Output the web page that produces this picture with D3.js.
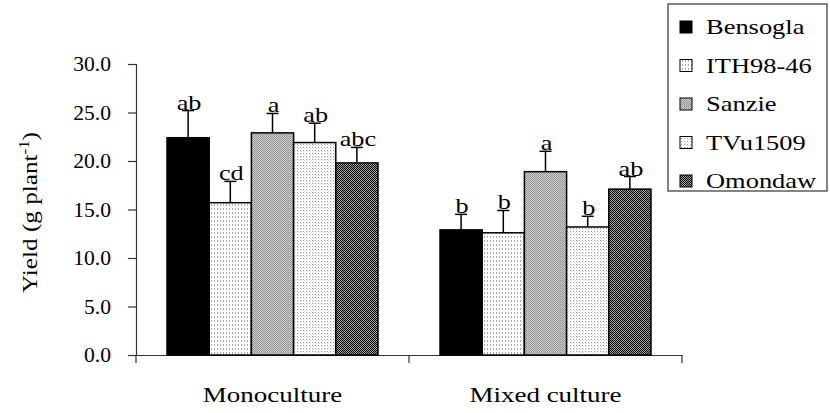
<!DOCTYPE html>
<html>
<head>
  <meta charset="utf-8">
  <script src="https://cdn.jsdelivr.net/npm/d3@7"></script>
  <style>
    body { margin: 0; background: #fff; }
    text { font-family: "Liberation Serif", "Times New Roman", serif; fill: #000; }
  </style>
</head>
<body>
<script>
  // data
  var categories = ["Monoculture", "Mixed culture"];
  var cultivars = ["Bensogla", "ITH98-46", "Sanzie", "TVu1509", "Omondaw"];
  var yieldMono = [22.4, 15.7, 22.9, 21.9, 19.8];
  var yieldMixed = [12.9, 12.6, 18.9, 13.2, 17.1];
  var errMono = [2.8, 2.2, 2.0, 2.0, 1.6];
  var errMixed = [1.6, 2.3, 2.1, 1.1, 1.3];
  var lettersMono = ["ab", "cd", "a", "ab", "abc"];
  var lettersMixed = ["b", "b", "a", "b", "ab"];
  var yTicks = [0, 5, 10, 15, 20, 25, 30];

  var W = 830, H = 413;
  var svg = d3.select("body").append("svg").attr("width", W).attr("height", H);

  // the figure's type is wide, so stretch text horizontally
  function stretch(sel, sx) {
    sel.each(function() {
      var t = d3.select(this);
      var x = +t.attr("x") || 0, y = +t.attr("y") || 0;
      t.attr("x", 0).attr("y", 0)
        .attr("transform", "translate(" + x + "," + y + ") scale(" + sx + ",1)");
    });
  }

  // fill patterns, one per cultivar
  var defs = svg.append("defs");
  function pattern(id, w, h, bg, dots) {
    var p = defs.append("pattern").attr("id", id)
      .attr("patternUnits", "userSpaceOnUse").attr("width", w).attr("height", h);
    p.append("rect").attr("width", w).attr("height", h).attr("fill", bg);
    dots.forEach(function(d) {
      p.append("rect").attr("x", d[0]).attr("y", d[1]).attr("width", d[2]).attr("height", d[3]).attr("fill", d[4]);
    });
  }
  pattern("p1", 3, 4, "#fff", [[1, 0, 1, 2, "#a8a8a8"]]);
  pattern("p2", 2, 2, "#d0d0d0", [[0, 0, 1, 1, "#8a8a8a"], [1, 1, 1, 1, "#9a9a9a"]]);
  pattern("p3", 3, 3, "#fff", [[0, 0, 1, 1, "#9a9a9a"], [1, 1, 1, 1, "#d8d8d8"]]);
  pattern("p4", 2, 2, "#a0a0a0", [[0, 0, 1, 1, "#000"], [1, 1, 1, 1, "#000"]]);
  var fills = ["#000", "url(#p1)", "url(#p2)", "url(#p3)", "url(#p4)"];

  var mLeft = 136, mRight = 682, mTop = 64, mBottom = 355;

  var y = d3.scaleLinear().domain([0, 30]).range([mBottom, mTop]);
  var x0 = d3.scaleBand().domain(categories).range([mLeft, mRight]).padding(0);
  var x1 = d3.scaleBand().domain(cultivars).range([0, x0.bandwidth()])
    .paddingInner(0).paddingOuter(0.735);

  var groups = [
    { cat: categories[0], vals: yieldMono, errs: errMono, letters: lettersMono },
    { cat: categories[1], vals: yieldMixed, errs: errMixed, letters: lettersMixed }
  ];

  // y axis
  var yAxis = svg.append("g").attr("transform", "translate(" + mLeft + ",0)")
    .call(d3.axisLeft(y).tickValues(yTicks).tickSize(8).tickPadding(17).tickFormat(d3.format(".1f")));
  yAxis.select(".domain").attr("stroke", "#333").attr("stroke-width", 1.2);
  yAxis.selectAll(".tick line").attr("stroke", "#333").attr("stroke-width", 1.2);
  yAxis.selectAll(".tick text").attr("font-size", 21).attr("font-family", "Liberation Serif").attr("fill", "#000");
  stretch(yAxis.selectAll(".tick text"), 1.03);

  // x axis
  var xAxis = svg.append("g").attr("transform", "translate(0," + mBottom + ")")
    .call(d3.axisBottom(x0).tickSize(0).tickPadding(33));
  xAxis.select(".domain").attr("stroke", "#333").attr("stroke-width", 1.2);
  xAxis.selectAll(".tick text").attr("font-size", 20).attr("font-family", "Liberation Serif").attr("fill", "#000");
  stretch(xAxis.selectAll(".tick text"), 1.35);
  // category boundary ticks
  var bounds = [mLeft].concat(categories.map(function(c) { return x0(c) + x0.bandwidth(); }));
  svg.selectAll(".btick").data(bounds).enter().append("line")
    .attr("x1", function(d) { return d; }).attr("x2", function(d) { return d; })
    .attr("y1", mBottom).attr("y2", mBottom + 8)
    .attr("stroke", "#333").attr("stroke-width", 1.2);

  // bars
  groups.forEach(function(g) {
    var gx = x0(g.cat);
    cultivars.forEach(function(c, i) {
      var bx = gx + x1(c), bw = x1.bandwidth(), v = g.vals[i];
      var cx = bx + bw / 2;
      var et = y(v + g.errs[i]);
      svg.append("line").attr("x1", cx).attr("x2", cx).attr("y1", y(v)).attr("y2", et)
        .attr("stroke", "#000").attr("stroke-width", 1.5);
      svg.append("line").attr("x1", cx - 6).attr("x2", cx + 6).attr("y1", et).attr("y2", et)
        .attr("stroke", "#000").attr("stroke-width", 1.5);
      svg.append("rect").attr("x", bx).attr("y", y(v)).attr("width", bw).attr("height", y(0) - y(v))
        .attr("fill", fills[i]).attr("stroke", "#000").attr("stroke-width", 1.5);
      var t = svg.append("text").attr("x", cx + 1).attr("y", et - 1).attr("text-anchor", "middle")
        .attr("font-size", 21).text(g.letters[i]);
      stretch(t, 1.25);
    });
  });

  // y axis title
  var yt = svg.append("text")
    .attr("transform", "translate(37," + ((mTop + mBottom) / 2 + 3) + ") rotate(-90) scale(1.2,1)")
    .attr("text-anchor", "middle").attr("font-size", 21);
  yt.append("tspan").text("Yield (g plant");
  yt.append("tspan").attr("dy", -8).attr("font-size", 14).text("-1");
  yt.append("tspan").attr("dy", 8).text(")");

  // legend
  var lg = svg.append("g");
  lg.append("rect").attr("x", 668).attr("y", 4).attr("width", 159).attr("height", 187)
    .attr("fill", "#fff").attr("stroke", "#333").attr("stroke-width", 1.2);
  cultivars.forEach(function(c, i) {
    var ry = 27 + i * 38.5;
    lg.append("rect").attr("x", 680).attr("y", ry - 6).attr("width", 12).attr("height", 12)
      .attr("fill", fills[i]).attr("stroke", "#000").attr("stroke-width", 1);
    var t = lg.append("text").attr("x", 706).attr("y", ry + 7).attr("font-size", 21).text(c);
    stretch(t, 1.26);
  });
</script>
</body>
</html>
